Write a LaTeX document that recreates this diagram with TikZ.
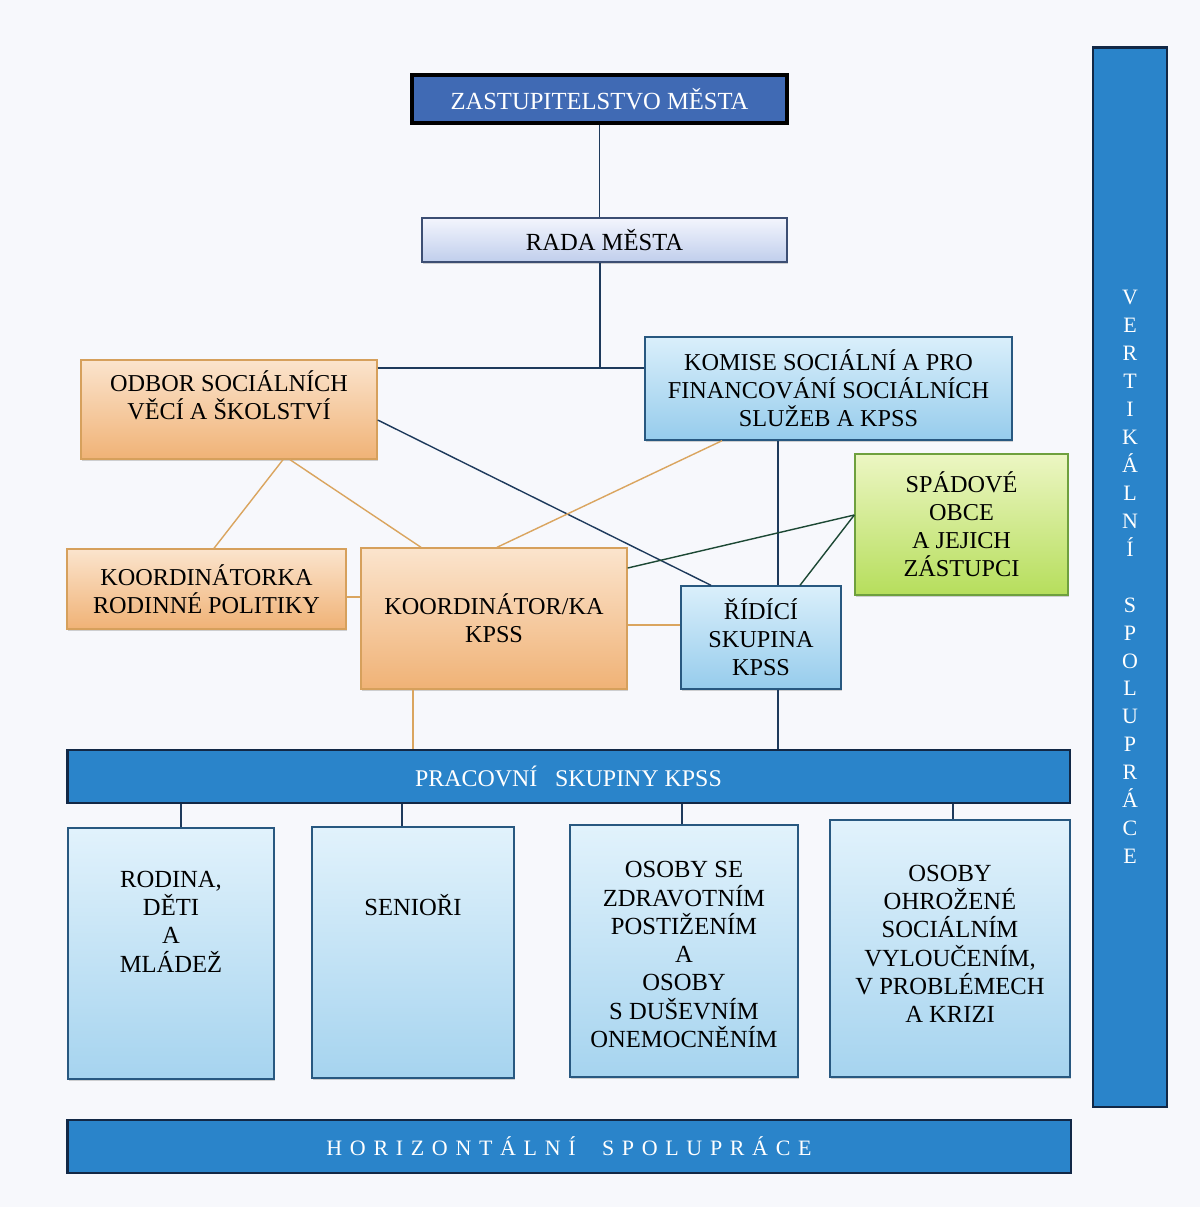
\documentclass[tikz,border=0pt]{standalone}
\usepackage{fontspec}
\setmainfont{Liberation Serif}
\usetikzlibrary{shadows}

\definecolor{pagebg}{RGB}{247,248,252}
\definecolor{navyline}{RGB}{30,58,92}
\definecolor{orangeline}{RGB}{218,165,95}
\definecolor{greenline}{RGB}{28,72,52}
\definecolor{zastfill}{RGB}{64,106,180}
\definecolor{radatop}{RGB}{243,245,253}
\definecolor{radabot}{RGB}{192,206,236}
\definecolor{radaedge}{RGB}{60,78,115}
\definecolor{orangetop}{RGB}{251,228,205}
\definecolor{orangebot}{RGB}{240,178,118}
\definecolor{orangeedge}{RGB}{214,160,92}
\definecolor{bluetop}{RGB}{218,239,251}
\definecolor{bluebot}{RGB}{150,204,236}
\definecolor{blueedge}{RGB}{40,88,128}
\definecolor{greentop}{RGB}{236,246,195}
\definecolor{greenbot}{RGB}{182,222,92}
\definecolor{greenedge}{RGB}{110,160,62}
\definecolor{barfill}{RGB}{42,132,202}
\definecolor{baredge}{RGB}{18,40,70}

\newcommand{\grouptext}[2]{\parbox[c][4.9cm][t]{3.95cm}{\centering\vspace*{#1}#2}}

\tikzset{
  box/.style={draw, line width=0.8pt, align=center, inner sep=0pt,
    font=\fontsize{13.8}{16}\selectfont,
    drop shadow={shadow xshift=0.6pt, shadow yshift=-1.2pt, opacity=0.35}},
  orangebox/.style={box, draw=orangeedge, top color=orangetop, bottom color=orangebot},
  bluebox/.style={box, draw=blueedge, top color=bluetop, bottom color=bluebot},
  greenbox/.style={box, draw=greenedge, top color=greentop, bottom color=greenbot},
  groupbox/.style={box, draw=blueedge, top color=bluetop!80!white, bottom color=bluebot!85!white,
    font=\fontsize{14}{16.1}\selectfont},
  bar/.style={draw=baredge, line width=1.6pt, fill=barfill, text=white, align=center,
    inner sep=0pt},
  navylink/.style={navyline, line width=0.8pt},
  orangelink/.style={orangeline, line width=0.8pt},
  greenlink/.style={greenline, line width=0.8pt}
}

\begin{document}
\begin{tikzpicture}[x=0.02cm, y=-0.02cm]

\fill[pagebg] (0,0) rectangle (1200,1207);
\useasboundingbox (0,0) rectangle (1200,1207);

% top of the chart
\node[draw=black, line width=2pt, fill=zastfill, text=white, inner sep=0pt,
  font=\fontsize{14}{16}\selectfont, minimum width=7.5cm, minimum height=0.96cm,
  drop shadow={shadow xshift=0.6pt, shadow yshift=-1.2pt, opacity=0.35}]
  (zastupitelstvo) at (599.5,99) {ZASTUPITELSTVO MĚSTA};
\node[box, draw=radaedge, top color=radatop, bottom color=radabot, font=\fontsize{14}{16}\selectfont,
  minimum width=7.3cm, minimum height=0.88cm] (rada) at (604.5,240) {RADA MĚSTA};

\node[orangebox, minimum width=5.92cm, minimum height=1.98cm] (odbor) at (229,409.5)
  {ODBOR SOCIÁLNÍCH\\VĚCÍ A ŠKOLSTVÍ\\};
\node[bluebox, minimum width=7.34cm, minimum height=2.06cm] (komise) at (828.5,388.5)
  {KOMISE SOCIÁLNÍ A PRO\\FINANCOVÁNÍ SOCIÁLNÍCH\\SLUŽEB A KPSS};
\node[greenbox, minimum width=4.26cm, minimum height=2.82cm] (spadove) at (961.5,524.5)
  {SPÁDOVÉ\\OBCE\\A JEJICH\\ZÁSTUPCI};
\node[orangebox, minimum width=5.58cm, minimum height=1.6cm] (koordinatorka) at (206.5,589)
  {KOORDINÁTORKA\\RODINNÉ POLITIKY};
\node[orangebox, minimum width=5.32cm, minimum height=2.82cm] (koordinator) at (494,618.5)
  {KOORDINÁTOR/KA\\KPSS};
\node[bluebox, minimum width=3.2cm, minimum height=2.06cm] (ridici) at (761,637.5)
  {ŘÍDÍCÍ\\SKUPINA\\KPSS};

% working groups
\node[bar, font=\fontsize{13.6}{16}\selectfont, minimum width=20.06cm, minimum height=1.06cm]
  (pracovni) at (568.5,776.5) {PRACOVNÍ\hspace{0.5em} SKUPINY KPSS};

\node[groupbox, minimum width=4.12cm, minimum height=5.02cm] (rodina) at (171,953.5)
  {\grouptext{0.8cm}{RODINA,\\DĚTI\\A\\MLÁDEŽ}};
\node[groupbox, minimum width=4.04cm, minimum height=5.02cm] (seniori) at (413,952.5)
  {\grouptext{1.28cm}{SENIOŘI}};
\node[groupbox, minimum width=4.56cm, minimum height=5.04cm] (zdravotni) at (684,951)
  {\grouptext{0.66cm}{OSOBY SE\\ZDRAVOTNÍM\\POSTIŽENÍM\\A\\OSOBY\\S DUŠEVNÍM\\ONEMOCNĚNÍM}};
\node[groupbox, minimum width=4.8cm, minimum height=5.14cm] (ohrozene) at (950,948.5)
  {\grouptext{0.78cm}{OSOBY\\OHROŽENÉ\\SOCIÁLNÍM\\VYLOUČENÍM,\\V PROBLÉMECH\\A KRIZI}};

% cooperation bars
\node[bar, font=\fontsize{12.5}{15.9}\selectfont, minimum width=1.48cm, minimum height=21.2cm]
  (vertikalni) at (1130,577)
  {V\\E\\R\\T\\I\\K\\Á\\L\\N\\Í\\[15.9pt]S\\P\\O\\L\\U\\P\\R\\Á\\C\\E};
\node[bar, font=\fontsize{12.5}{14}\selectfont\addfontfeatures{LetterSpace=35},
  minimum width=20.08cm, minimum height=1.06cm]
  (horizontalni) at (569,1146.5) {HORIZONTÁLNÍ\hspace{0.6em} SPOLUPRÁCE};

% connectors
\coordinate (junction) at (600,368);
\draw[navylink] (zastupitelstvo.south) -- (zastupitelstvo.south |- rada.north);
\draw[navylink] (rada.south -| junction) -- (junction);
\draw[navylink] (junction -| odbor.east) -- (junction -| komise.west);
\draw[navylink] ([yshift=-0.21cm]odbor.east) -- ([xshift=-1cm]ridici.north);
\draw[navylink] ([xshift=0.34cm]ridici.north) -- ([xshift=0.34cm]ridici.north |- komise.south);
\draw[navylink] ([xshift=0.34cm]ridici.south) -- ([xshift=0.34cm]ridici.south |- pracovni.north);

\draw[greenlink] ([yshift=0.19cm]spadove.west) -- ([yshift=1.01cm]koordinator.east);
\draw[greenlink] ([yshift=0.19cm]spadove.west) -- ([xshift=0.78cm]ridici.north);

\draw[orangelink] ([xshift=1.08cm]odbor.south) -- ([xshift=0.15cm]koordinatorka.north);
\draw[orangelink] ([xshift=1.22cm]odbor.south) -- ([xshift=-1.46cm]koordinator.north);
\draw[orangelink] ([xshift=-2.13cm]komise.south) -- ([xshift=0.06cm]koordinator.north);
\draw[orangelink] ([yshift=-0.16cm]koordinatorka.east) -- ([yshift=-0.16cm]koordinatorka.east -| koordinator.west);
\draw[orangelink] ([yshift=-0.13cm]koordinator.east) -- ([yshift=-0.13cm]koordinator.east -| ridici.west);
\draw[orangelink] ([xshift=-1.62cm]koordinator.south) -- ([xshift=-1.62cm]koordinator.south |- pracovni.north);

\draw[navylink] ([xshift=0.2cm]rodina.north) -- ([xshift=0.2cm]rodina.north |- pracovni.south);
\draw[navylink] ([xshift=-0.22cm]seniori.north) -- ([xshift=-0.22cm]seniori.north |- pracovni.south);
\draw[navylink] ([xshift=-0.04cm]zdravotni.north) -- ([xshift=-0.04cm]zdravotni.north |- pracovni.south);
\draw[navylink] ([xshift=0.06cm]ohrozene.north) -- ([xshift=0.06cm]ohrozene.north |- pracovni.south);

\end{tikzpicture}
\end{document}
